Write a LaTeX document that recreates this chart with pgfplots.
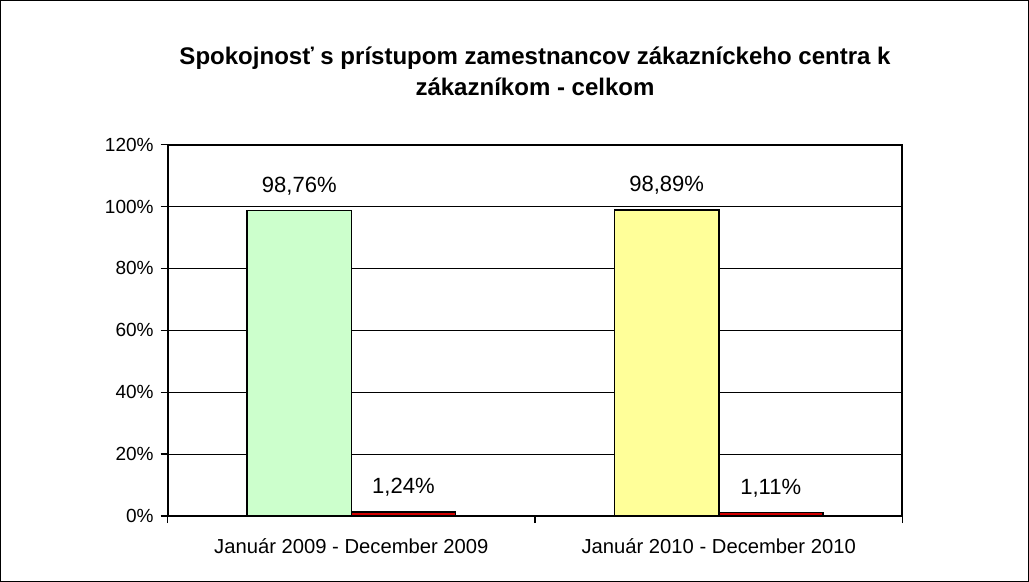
\documentclass[border=0pt]{standalone}
\usepackage{fontspec}
\setmainfont{Liberation Sans}
\usepackage{pgfplots}
\pgfplotsset{compat=1.18}

\definecolor{palegreen}{HTML}{CCFFCC}
\definecolor{paleyellow}{HTML}{FFFF99}
\definecolor{barred}{HTML}{D40000}

\begin{document}
\begin{tikzpicture}
\begin{axis}[
  at={(0,0)}, anchor=south west,
  scale only axis,
  width=367pt, height=185.5pt,
  xmin=-0.5, xmax=1.5,
  ymin=0, ymax=120,
  ytick={0,20,...,120},
  yticklabel={\pgfmathprintnumber{\tick}\%},
  /pgf/number format/assume math mode=true,
  xtick={0,1},
  xticklabels={Január 2009 - December 2009, Január 2010 - December 2010},
  minor xtick={-0.5,0.5,1.5},
  major x tick style={draw=none},
  tick align=outside,
  tick pos=left,
  major tick length=3.5pt,
  minor tick length=3.5pt,
  ymajorgrids,
  grid style={black, line width=0.5pt},
  axis line style={black, line width=0.9pt},
  tick style={black, line width=0.6pt},
  yticklabel style={font=\fontsize{9.5}{11}\selectfont},
  xticklabel style={font=\fontsize{10.1}{12}\selectfont, yshift=-4.5pt},
  ybar=0pt, bar width=52pt,
  nodes near coords={\pgfmathprintnumber[fixed,fixed zerofill,precision=2,use comma]{\pgfplotspointmeta}\%},
  nodes near coords style={font=\fontsize{11}{13}\selectfont, yshift=4pt},
  title={Spokojnosť s prístupom zamestnancov zákazníckeho centra k\\zákazníkom - celkom},
  title style={font=\bfseries\fontsize{12}{15.5}\selectfont, align=center, at={(0.5,1)}, anchor=center, yshift=30.75pt},
]
  % prvy stlpec v skupine (spokojni)
  \addplot[fill=palegreen, draw=black, line width=0.8pt, bar shift=-26pt] coordinates {(0,98.76)};
  \addplot[fill=paleyellow, draw=black, line width=0.8pt, bar shift=-26pt] coordinates {(1,98.89)};
  % druhy stlpec (nespokojni)
  \addplot[fill=barred, draw=black, line width=0.8pt, bar shift=26pt] coordinates {(0,1.24) (1,1.11)};
\end{axis}
\draw[black, line width=0.5pt] (-83.5pt,-32.5pt) rectangle (430pt,257.5pt);
\end{tikzpicture}
\end{document}
